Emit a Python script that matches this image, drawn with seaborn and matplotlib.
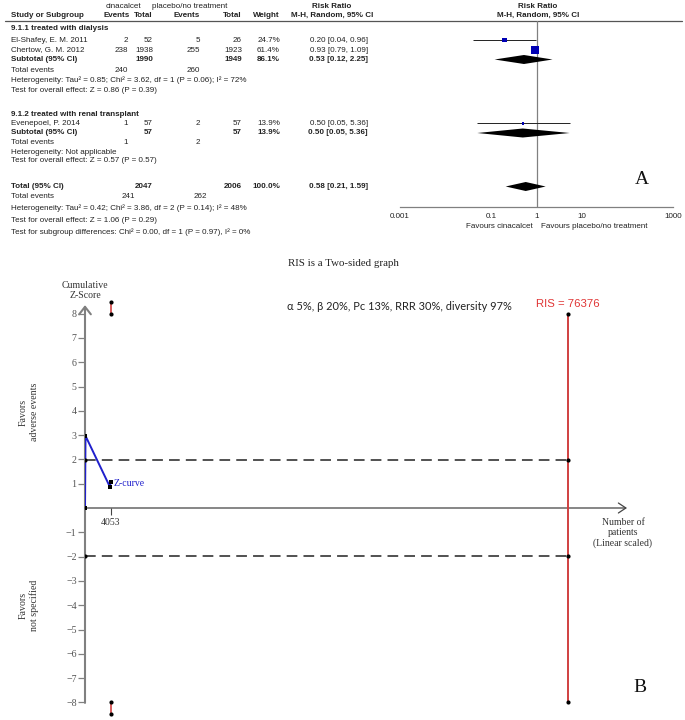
import matplotlib
matplotlib.use("Agg")
import matplotlib.pyplot as plt
import numpy as np
import seaborn as sns

# ---- panel A: forest plot data ----
study_names = ["El-Shafey, E. M. 2011", "Chertow, G. M. 2012", "Evenepoel, P. 2014"]
study_group = [0, 0, 1]
cina_events = [2, 238, 1]
cina_total = [52, 1938, 57]
plac_events = [5, 255, 2]
plac_total = [26, 1923, 57]
weights = [24.7, 61.4, 13.9]
rr = [0.20, 0.93, 0.50]
rr_lo = [0.04, 0.79, 0.05]
rr_hi = [0.96, 1.09, 5.36]

group_names = ["9.1.1 treated with dialysis", "9.1.2 treated with renal transplant"]
group_cina_total = [1990, 57]
group_plac_total = [1949, 57]
group_cina_events = [240, 1]
group_plac_events = [260, 2]
group_weight = [86.1, 13.9]
group_rr = [0.53, 0.50]
group_lo = [0.12, 0.05]
group_hi = [2.25, 5.36]
group_het = ["Heterogeneity: Tau² = 0.85; Chi² = 3.62, df = 1 (P = 0.06); I² = 72%",
             "Heterogeneity: Not applicable"]
group_test = ["Test for overall effect: Z = 0.86 (P = 0.39)",
              "Test for overall effect: Z = 0.57 (P = 0.57)"]

total_cina, total_plac, total_weight = 2047, 2006, 100.0
total_cina_events, total_plac_events = 241, 262
total_rr, total_lo, total_hi = 0.58, 0.21, 1.59
total_notes = ["Heterogeneity: Tau² = 0.42; Chi² = 3.86, df = 2 (P = 0.14); I² = 48%",
               "Test for overall effect: Z = 1.06 (P = 0.29)",
               "Test for subgroup differences: Chi² = 0.00, df = 1 (P = 0.97), I² = 0%"]
forest_ticks = [0.001, 0.1, 1, 10, 1000]

# ---- panel B: trial sequential analysis data ----
z_patients = [0, 78, 3939, 4053]
z_scores = [0, 2.97, 0.87, 1.06]
ris = 76376
z_boundary = 1.96
offscale_z = [8, 8.48]
z_ticks = [-8, -7, -6, -5, -4, -3, -2, -1, 1, 2, 3, 4, 5, 6, 7, 8]
ris_text = "RIS = 76376"
settings_text = "α 5%, β 20%, Pc 13%, RRR 30%, diversity 97%"

# ---- layout (pixel rows / columns of the table) ----
W, H = 685, 720
SANS = "Liberation Sans"
SERIF = "Liberation Serif"
TXT = "#222222"
FS = 5.8
study_y = [40, 50, 123.5]
group_head_y = [29, 114]
group_sub_y = [59.5, 133]
group_ev_y = [70, 142.5]
group_het_y = [80.5, 152]
group_test_y = [90.5, 161]
total_y, total_ev_y = 186.5, 197
total_notes_y = [208, 220, 232]
x_name, x_cev, x_ctot, x_pev, x_ptot, x_w, x_rr = 11, 128, 153, 200, 242, 280, 368

sns.set_theme(style="white")
plt.rcParams["font.family"] = [SERIF, "DejaVu Serif"]
plt.rcParams["axes.unicode_minus"] = True

fig = plt.figure(figsize=(W / 100, H / 100), dpi=100)
bg = fig.add_axes([0, 0, 1, 1], zorder=0)
bg.set_xlim(0, W)
bg.set_ylim(H, 0)
bg.axis("off")


def t(x, y, s, ha="left", bold=False, size=FS, **kw):
    bg.text(x, y, s, ha=ha, va="center", fontsize=size, family=SANS,
            fontweight="bold" if bold else "normal", color=kw.pop("color", TXT), **kw)


# table header
t(123, 6, "cinacalcet", ha="center")
t(190, 6, "placebo/no treatment", ha="center")
t(332, 6, "Risk Ratio", ha="center", bold=True)
t(538, 6, "Risk Ratio", ha="center", bold=True)
t(x_name, 15.5, "Study or Subgroup", bold=True)
t(x_cev + 2, 15.5, "Events", ha="right", bold=True)
t(x_ctot, 15.5, "Total", ha="right", bold=True)
t(x_pev, 15.5, "Events", ha="right", bold=True)
t(x_ptot, 15.5, "Total", ha="right", bold=True)
t(x_w, 15.5, "Weight", ha="right", bold=True)
t(332, 15.5, "M-H, Random, 95% CI", ha="center", bold=True)
t(538, 15.5, "M-H, Random, 95% CI", ha="center", bold=True)
bg.plot([5, 682], [21, 21], color="#555555", lw=0.9)

# studies
for i, name in enumerate(study_names):
    y = study_y[i]
    t(x_name, y, name)
    t(x_cev, y, str(cina_events[i]), ha="right")
    t(x_ctot, y, str(cina_total[i]), ha="right")
    t(x_pev, y, str(plac_events[i]), ha="right")
    t(x_ptot, y, str(plac_total[i]), ha="right")
    t(x_w, y, f"{weights[i]:.1f}%", ha="right")
    t(x_rr, y, f"{rr[i]:.2f} [{rr_lo[i]:.2f}, {rr_hi[i]:.2f}]", ha="right")

# subgroups
for g, name in enumerate(group_names):
    t(x_name, group_head_y[g], name, bold=True)
    ys = group_sub_y[g]
    t(x_name, ys, "Subtotal (95% CI)", bold=True)
    t(x_ctot, ys, str(group_cina_total[g]), ha="right", bold=True)
    t(x_ptot, ys, str(group_plac_total[g]), ha="right", bold=True)
    t(x_w, ys, f"{group_weight[g]:.1f}%", ha="right", bold=True)
    t(x_rr, ys, f"{group_rr[g]:.2f} [{group_lo[g]:.2f}, {group_hi[g]:.2f}]", ha="right", bold=True)
    t(x_name, group_ev_y[g], "Total events")
    t(x_cev, group_ev_y[g], str(group_cina_events[g]), ha="right")
    t(x_pev, group_ev_y[g], str(group_plac_events[g]), ha="right")
    t(x_name, group_het_y[g], group_het[g])
    t(x_name, group_test_y[g], group_test[g])

# overall
t(x_name, total_y, "Total (95% CI)", bold=True)
t(x_ctot, total_y, str(total_cina), ha="right", bold=True)
t(x_ptot, total_y, str(total_plac), ha="right", bold=True)
t(x_w, total_y, f"{total_weight:.1f}%", ha="right", bold=True)
t(x_rr, total_y, f"{total_rr:.2f} [{total_lo:.2f}, {total_hi:.2f}]", ha="right", bold=True)
t(x_name, total_ev_y, "Total events")
t(x_cev + 7, total_ev_y, str(total_cina_events), ha="right")
t(x_pev + 7, total_ev_y, str(total_plac_events), ha="right")
for y, s in zip(total_notes_y, total_notes):
    t(x_name, y, s)
t(533, 226, "Favours cinacalcet", ha="right")
t(541, 226, "Favours placebo/no treatment")

# forest graph
fax = fig.add_axes([400 / W, 1 - 207 / H, 273 / W, (207 - 21) / H], zorder=2)
fax.patch.set_alpha(0)
fax.set_xscale("log")
fax.set_xlim(forest_ticks[0], forest_ticks[-1])
fax.set_ylim(207, 21)
for side in ["top", "left", "right"]:
    fax.spines[side].set_visible(False)
fax.spines["bottom"].set_color("#808080")
fax.spines["bottom"].set_linewidth(0.9)
fax.set_yticks([])
fax.set_xticks(forest_ticks)
fax.set_xticklabels([f"{v:g}" for v in forest_ticks], family=SANS, fontsize=FS, color=TXT)
fax.minorticks_off()
fax.tick_params(axis="x", direction="inout", length=5, width=0.8, color="#808080", pad=1.5)
fax.axvline(1, color="#808080", lw=0.9, zorder=1)
fax.hlines(study_y, rr_lo, rr_hi, color="#222222", lw=0.7, zorder=2)
sns.scatterplot(x=rr, y=study_y, size=weights, sizes=(3.5, 34), size_norm=(13.9, 61.4),
                marker="s", color="#0000b4", linewidth=0, legend=False, ax=fax, zorder=3)
fax.set_xlabel("")
fax.set_ylabel("")
dh = 4.5
for est, lo, hi, y in zip(group_rr + [total_rr], group_lo + [total_lo],
                          group_hi + [total_hi], group_sub_y + [total_y]):
    fax.fill([lo, est, hi, est], [y, y - dh, y, y + dh], color="black", lw=0, zorder=3)
bg.text(642, 179, "A", ha="center", va="center", fontsize=14, family=SERIF, color="#111111")

# ---- panel B ----
bg.text(343, 263, "RIS is a Two-sided graph", ha="center", va="center", fontsize=7.8, family=SERIF, color="#222222")
bg.text(85, 285, "Cumulative", ha="center", va="center", fontsize=7.1, family=SERIF, color="#333333")
bg.text(85, 296, "Z-Score", ha="center", va="center", fontsize=7.1, family=SERIF, color="#333333")
bg.text(29, 412, "Favors\nadverse events", ha="center", va="center", rotation=90,
        fontsize=7.1, family=SERIF, color="#333333", linespacing=1.25)
bg.text(29, 605, "Favors\nnot specified", ha="center", va="center", rotation=90,
        fontsize=7.1, family=SERIF, color="#333333", linespacing=1.25)
bg.text(623, 533, "Number of\npatients\n(Linear scaled)", ha="center", va="center",
        fontsize=7.0, family=SERIF, color="#333333", linespacing=1.15)
bg.text(287, 307, settings_text, ha="left", va="center", fontsize=7.9,
        family=["Lato", "Noto Sans", "DejaVu Sans"], color="#222222")
bg.text(640, 688, "B", ha="center", va="center", fontsize=14, family=SERIF, color="#111111")

px_per_z = 24.3
z_lim = (717 - 508) / px_per_z
x_max = (627 - 85) / ((568 - 85) / ris)
tax = fig.add_axes([85 / W, 1 - 717 / H, 542 / W, 418 / H], zorder=3)
tax.patch.set_alpha(0)
tax.set_xlim(0, x_max)
tax.set_ylim(-z_lim, z_lim)
for side in tax.spines:
    tax.spines[side].set_visible(False)
tax.spines["bottom"].set_position(("data", 0))

# axes with arrow heads
tax.annotate("", xy=(0, 8.35), xytext=(0, -8.02),
             arrowprops=dict(arrowstyle="->,head_length=0.45,head_width=0.35", color="#808080",
                             lw=1.5, shrinkA=0, shrinkB=0), zorder=1)
tax.annotate("", xy=(x_max, 0), xytext=(0, 0),
             arrowprops=dict(arrowstyle="->,head_length=0.45,head_width=0.3", color="#444444",
                             lw=0.9, shrinkA=0, shrinkB=0), zorder=1)

tax.set_yticks(z_ticks)
tax.set_yticklabels([f"{v:d}".replace("-", "\u2212") for v in z_ticks], family=SERIF,
                    fontsize=7.2, color="#555555")
tax.tick_params(axis="y", direction="out", length=5, width=0.9, color="#808080", pad=1, left=True)
tax.set_xticks([z_patients[-1]])
tax.set_xticklabels([str(z_patients[-1])], family=SERIF, fontsize=7.0, color="#333333")
tax.tick_params(axis="x", direction="out", length=5, width=0.8, color="#444444", pad=2, bottom=True)

# monitoring boundaries at +-1.96 up to the RIS
for zb in (z_boundary, -z_boundary):
    tax.plot([0, ris], [zb, zb], color="#222222", lw=1.1, linestyle=(0, (7, 4)), zorder=2)
tax.plot([ris, ris], [-offscale_z[0], offscale_z[0]], color="#d04040", lw=1.4, zorder=2)
for sgn in (1, -1):
    tax.plot([z_patients[-1]] * 2, [sgn * v for v in offscale_z], color="#d04040", lw=1.2, zorder=2)
    sns.scatterplot(x=[z_patients[-1]] * 2, y=[sgn * v for v in offscale_z], color="black",
                    s=9, linewidth=0, ax=tax, zorder=4)
dot_x = [0, 0, ris, ris, ris, ris]
dot_y = [z_boundary, -z_boundary, z_boundary, -z_boundary, offscale_z[0], -offscale_z[0]]
sns.scatterplot(x=dot_x, y=dot_y, color="black", s=9, linewidth=0, ax=tax, zorder=4)

# Z-curve
sns.lineplot(x=z_patients, y=z_scores, sort=False, estimator=None, color="#2020cc", lw=1.4,
             ax=tax, zorder=3)
sns.scatterplot(x=z_patients, y=z_scores, marker="s", color="black", s=9, linewidth=0,
                ax=tax, zorder=4)
tax.annotate("Z-curve", xy=(z_patients[-1], z_scores[-1]), xytext=(2, -1), textcoords="offset points",
             ha="left", va="center", fontsize=7.0, family=SERIF, color="#2020cc")
tax.annotate(ris_text, xy=(ris, offscale_z[0]), xytext=(0, 3), textcoords="offset points",
             ha="center", va="bottom", fontsize=8.2, family=SANS, color="#e03535")
tax.set_xlabel("")
tax.set_ylabel("")

fig.savefig("out.png", dpi=100, facecolor="white")
